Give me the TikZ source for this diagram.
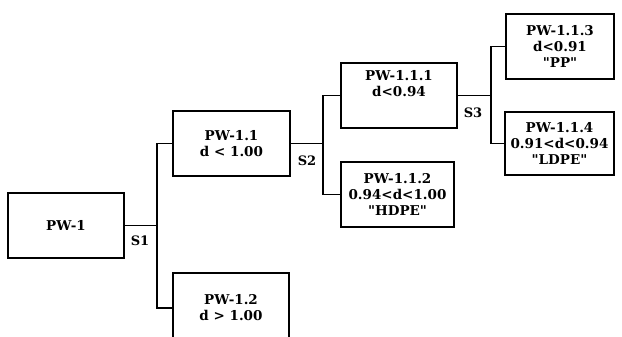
\documentclass[tikz,border=0pt]{standalone}
\usepackage{fontspec}
\newfontfamily\pwfont{DejaVu Serif}
\begin{document}
\begin{tikzpicture}[x=1pt,y=-1pt,
  pwbox/.style={draw,line width=1.1pt,inner sep=0pt,align=center,
    font=\pwfont\bfseries\fontsize{13.5}{16}\selectfont},
  conn/.style={line width=1.1pt},
  slabel/.style={font=\pwfont\bfseries\fontsize{13}{14}\selectfont,inner sep=0pt}]
\useasboundingbox (0,0) rectangle (622,337);
\node[pwbox,minimum width=116pt,minimum height=65pt] (pw1) at (66,225.5) {PW-1};
\node[pwbox,minimum width=117pt,minimum height=65pt] (pw11) at (231.5,143.5) {PW-1.1\\d < 1.00};
\node[pwbox,minimum width=116pt,minimum height=70pt] (pw12) at (231,308) {PW-1.2\\d > 1.00};
\node[pwbox,minimum width=116pt,minimum height=65pt] (pw111) at (399,95.5) {PW-1.1.1\\d<0.94\\[8pt]};
\node[pwbox,minimum width=113pt,minimum height=65pt] (pw112) at (397.5,194.5) {PW-1.1.2\\0.94<d<1.00\\"HDPE"};
\node[pwbox,minimum width=108pt,minimum height=65pt] (pw113) at (560,46.5) {PW-1.1.3\\d<0.91\\"PP"};
\node[pwbox,minimum width=109pt,minimum height=63pt] (pw114) at (559.5,143.5) {PW-1.1.4\\0.91<d<0.94\\"LDPE"};
\coordinate (j1) at (157,225.5);
\coordinate (j2) at (323,143.5);
\coordinate (j3) at (491,95.5);
\draw[conn] (pw1.east) -- (j1);
\draw[conn] (pw11.west) -| (j1) |- (pw12.west);
\draw[conn] (pw11.east) -- (j2);
\draw[conn] (pw111.west) -| (j2) |- (pw112.west);
\draw[conn] (pw111.east) -- (j3);
\draw[conn] (pw113.west) -| (j3) |- (pw114.west);
\node[slabel] (s1) at (140,241) {S1};
\node[slabel] (s2) at (307,161) {S2};
\node[slabel] (s3) at (473,113) {S3};
\end{tikzpicture}
\end{document}
